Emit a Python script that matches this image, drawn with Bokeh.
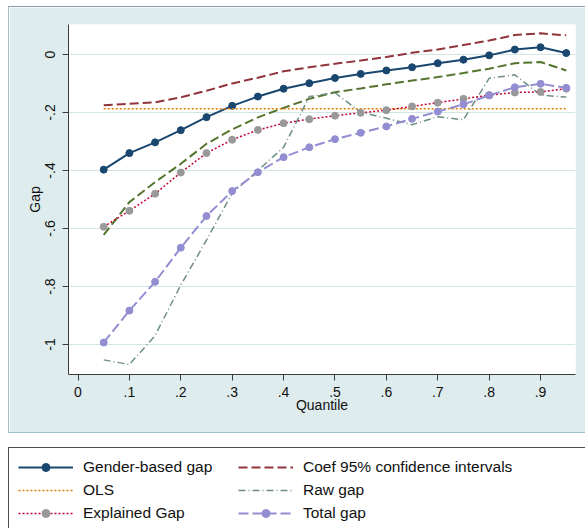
import numpy as np
from bokeh.plotting import figure
from bokeh.models import Range1d, FixedTicker, Legend, LegendItem, ColumnDataSource, Spacer
from bokeh.layouts import column, row
from bokeh.embed import file_html
from bokeh.resources import INLINE

# ---------------- data ----------------
quantiles = [0.05, 0.10, 0.15, 0.20, 0.25, 0.30, 0.35, 0.40, 0.45, 0.50,
             0.55, 0.60, 0.65, 0.70, 0.75, 0.80, 0.85, 0.90, 0.95]
gender_gap = [-0.397, -0.340, -0.303, -0.261, -0.216, -0.177, -0.145, -0.118, -0.099, -0.081,
              -0.067, -0.055, -0.044, -0.030, -0.018, -0.003, 0.017, 0.025, 0.005]
ci_upper = [-0.175, -0.170, -0.165, -0.148, -0.125, -0.100, -0.080, -0.058, -0.044, -0.032,
            -0.021, -0.009, 0.006, 0.017, 0.033, 0.048, 0.067, 0.073, 0.066]
ci_lower = [-0.622, -0.509, -0.440, -0.377, -0.308, -0.258, -0.217, -0.184, -0.153, -0.130,
            -0.117, -0.103, -0.090, -0.078, -0.064, -0.049, -0.030, -0.026, -0.055]
ols = [-0.187, -0.187, -0.187, -0.187, -0.187, -0.187, -0.187, -0.187, -0.187, -0.187,
       -0.187, -0.187, -0.187, -0.187, -0.187, -0.187, -0.187, -0.187, -0.187]
raw_gap = [-1.053, -1.069, -0.969, -0.795, -0.640, -0.478, -0.400, -0.320, -0.145, -0.132,
           -0.199, -0.220, -0.242, -0.215, -0.225, -0.082, -0.070, -0.140, -0.147]
explained_gap = [-0.594, -0.539, -0.480, -0.407, -0.340, -0.294, -0.260, -0.237, -0.223, -0.211,
                 -0.201, -0.192, -0.179, -0.166, -0.153, -0.140, -0.131, -0.129, -0.118]
total_gap = [-0.993, -0.883, -0.784, -0.666, -0.557, -0.471, -0.406, -0.354, -0.320, -0.292,
             -0.270, -0.248, -0.222, -0.197, -0.172, -0.141, -0.113, -0.101, -0.115]

x_ticks = [0.0, 0.1, 0.2, 0.3, 0.4, 0.5, 0.6, 0.7, 0.8, 0.9]
x_tick_labels = ["0", ".1", ".2", ".3", ".4", ".5", ".6", ".7", ".8", ".9"]
y_ticks = [-1.0, -0.8, -0.6, -0.4, -0.2, 0.0]
y_tick_labels = ["-1", "-.8", "-.6", "-.4", "-.2", "0"]

legend_labels = ["Gender-based gap", "Coef 95% confidence intervals", "OLS",
                 "Raw gap", "Explained Gap", "Total gap"]

# ---------------- styles ----------------
FONT = "Liberation Sans"
BG = "#dfeced"
GRID = "#d3e4e5"
AXIS = "#3c3c3c"
NAVY = "#1a476f"
MAROON = "#90353b"
GREEN = "#55752f"
ORANGE = "#e37e00"
TEAL = "#6e8e84"
CRAN = "#c10534"
GRAYM = "#999999"
LAV = "#938dd2"

p = figure(width=576, height=425, output_backend="svg", toolbar_location=None,
           x_range=Range1d(-0.0185, 0.968), y_range=Range1d(-1.1034, 0.1034),
           min_border_left=59, min_border_right=10, min_border_top=17, min_border_bottom=58,
           background_fill_color="white", border_fill_color=BG, outline_line_color=None)

xt = FixedTicker(ticks=x_ticks)
yt = FixedTicker(ticks=y_ticks)
p.xaxis.ticker = xt
p.yaxis.ticker = yt
p.xaxis.major_label_overrides = {t: l for t, l in zip(x_ticks, x_tick_labels)}
p.yaxis.major_label_overrides = {t: l for t, l in zip(y_ticks, y_tick_labels)}
p.yaxis.major_label_orientation = "vertical"
for ax in (p.xaxis, p.yaxis):
    ax.axis_line_color = AXIS
    ax.axis_line_width = 1
    ax.major_tick_line_color = AXIS
    ax.major_tick_out = 6
    ax.major_tick_in = 0
    ax.minor_tick_line_color = None
    ax.major_label_text_font = FONT
    ax.major_label_text_font_size = "14px"
    ax.major_label_text_color = "#111111"
    ax.axis_label_text_font = FONT
    ax.axis_label_text_font_size = "14px"
    ax.axis_label_text_font_style = "normal"
    ax.axis_label_text_color = "#111111"
p.xaxis.major_label_standoff = 6
p.yaxis.major_label_standoff = 7
p.xaxis.axis_label_standoff = -3
p.yaxis.axis_label_standoff = 0
p.xaxis.axis_label = "Quantile"
p.yaxis.axis_label = "Gap"

p.xgrid.visible = False
p.ygrid.ticker = yt
p.ygrid.grid_line_color = GRID
p.ygrid.grid_line_width = 1

src = ColumnDataSource(data=dict(q=quantiles, gender=gender_gap, up=ci_upper, lo=ci_lower,
                                 ols=ols, raw=raw_gap, expl=explained_gap, total=total_gap))

p.line("q", "gender", source=src, line_color=NAVY, line_width=2)
p.scatter("q", "gender", source=src, size=7, fill_color=NAVY, line_color=NAVY)
p.line("q", "up", source=src, line_color=MAROON, line_width=2, line_dash="9 4")
p.line("q", "lo", source=src, line_color=GREEN, line_width=2, line_dash="9 4")
p.line("q", "ols", source=src, line_color=ORANGE, line_width=1.5, line_dash="2 2")
p.line("q", "raw", source=src, line_color=TEAL, line_width=1.5, line_dash="7 3 1 3")
p.line("q", "expl", source=src, line_color=CRAN, line_width=1.5, line_dash="2 2")
p.scatter("q", "expl", source=src, size=7, fill_color=GRAYM, line_color=GRAYM)
p.line("q", "total", source=src, line_color=LAV, line_width=2, line_dash="10 4")
p.scatter("q", "total", source=src, size=7, fill_color=LAV, line_color=LAV)

# ---------------- legend panel ----------------
p2 = figure(width=576, height=80, output_backend="svg", toolbar_location=None,
            x_range=Range1d(0, 1), y_range=Range1d(0, 1),
            x_axis_type=None, y_axis_type=None, min_border=0,
            background_fill_color="white", border_fill_color="white", outline_line_color=None)
p2.grid.visible = False
nan_src = ColumnDataSource(data=dict(x=[np.nan], y=[np.nan]))

g1 = p2.line("x", "y", source=nan_src, line_color=NAVY, line_width=2)
g1m = p2.scatter("x", "y", source=nan_src, size=7, fill_color=NAVY, line_color=NAVY)
g2 = p2.line("x", "y", source=nan_src, line_color=MAROON, line_width=2, line_dash="9 4")
g3 = p2.line("x", "y", source=nan_src, line_color=ORANGE, line_width=1.5, line_dash="2 2")
g4 = p2.line("x", "y", source=nan_src, line_color=TEAL, line_width=1.5, line_dash="7 3 1 3")
g5 = p2.line("x", "y", source=nan_src, line_color=CRAN, line_width=1.5, line_dash="2 2")
g5m = p2.scatter("x", "y", source=nan_src, size=7, fill_color=GRAYM, line_color=GRAYM)
g6 = p2.line("x", "y", source=nan_src, line_color=LAV, line_width=2, line_dash="10 4")
g6m = p2.scatter("x", "y", source=nan_src, size=7, fill_color=LAV, line_color=LAV)

items = [
    LegendItem(label=legend_labels[0], renderers=[g1, g1m]),
    LegendItem(label=legend_labels[1], renderers=[g2]),
    LegendItem(label=legend_labels[2], renderers=[g3]),
    LegendItem(label=legend_labels[3], renderers=[g4]),
    LegendItem(label=legend_labels[4], renderers=[g5, g5m]),
    LegendItem(label=legend_labels[5], renderers=[g6, g6m]),
]
legend = Legend(items=items, location=(0, -4), orientation="horizontal", ncols=2,
                margin=0, padding=9, spacing=3, glyph_width=55, glyph_height=20,
                label_height=20, label_width=152, label_standoff=10,
                label_text_font=FONT, label_text_font_size="15.5px", label_text_color="#111111",
                border_line_color="white", border_line_alpha=0.0,
                background_fill_color="white", background_fill_alpha=1.0)
p2.add_layout(legend)

# graph-region frame lines
top_line = Spacer(width=577, height=1, styles={"background-color": "#8e9fa8"})
left_line = Spacer(width=1, height=425, styles={"background-color": "#a9bec8"})
bottom_line = Spacer(width=577, height=1, styles={"background-color": "#9fbfd2"})
graph_block = column(top_line, row(left_line, p), bottom_line)

# legend box lines (box runs past the right and bottom edges)
leg_top = Spacer(width=577, height=1, styles={"background-color": "#4d4d4d"})
leg_left = Spacer(width=1, height=80, styles={"background-color": "#4d4d4d"})
legend_block = column(leg_top, row(leg_left, p2))

layout = column(
    Spacer(width=585, height=6),
    row(Spacer(width=8, height=427), graph_block),
    Spacer(width=585, height=14),
    row(Spacer(width=8, height=81), legend_block),
)

open("out.html", "w").write(file_html(layout, INLINE))
